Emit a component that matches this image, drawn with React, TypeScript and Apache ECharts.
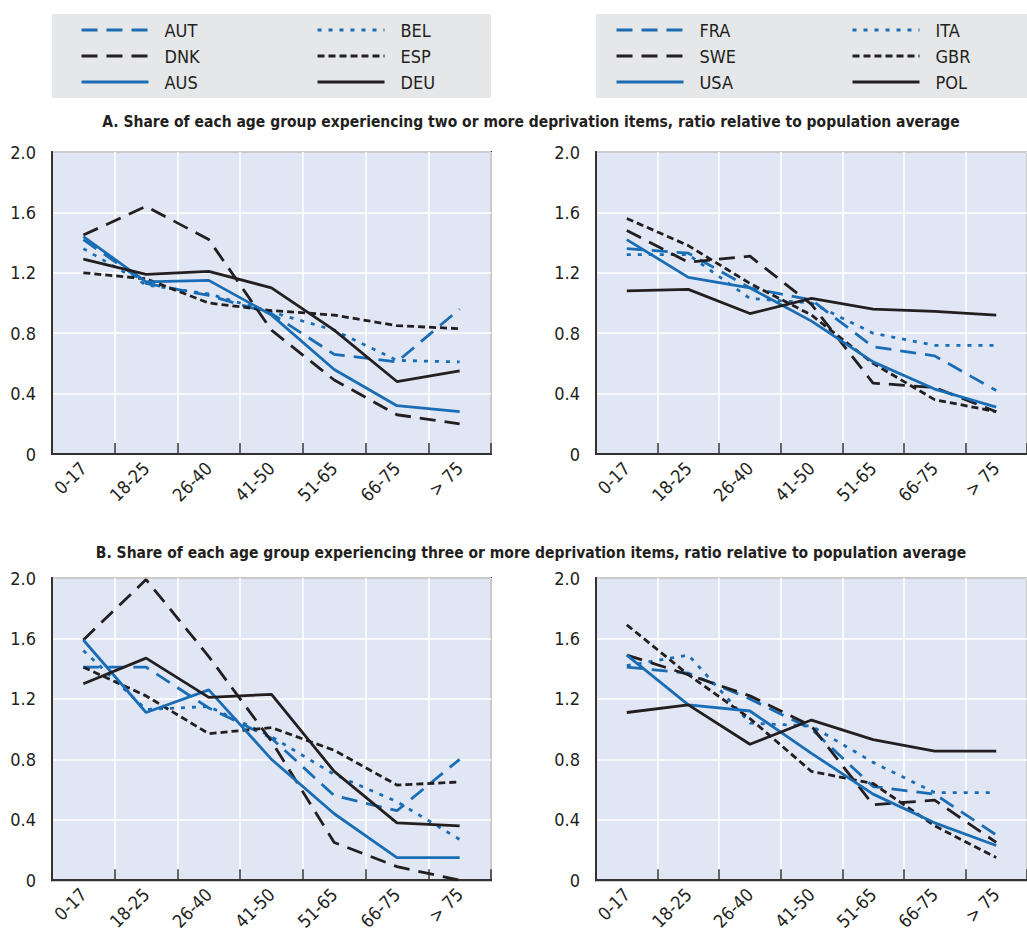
import React, { useEffect, useRef } from "react";
import * as echarts from "echarts";

const ageGroups = ["0-17", "18-25", "26-40", "41-50", "51-65", "66-75", "> 75"];
const yTicks = [0, 0.4, 0.8, 1.2, 1.6, 2.0];

const titleA = "A. Share of each age group experiencing two or more deprivation items, ratio relative to population average";
const titleB = "B. Share of each age group experiencing three or more deprivation items, ratio relative to population average";

// Panel A, left
const AUT_A = [1.42, 1.13, 1.05, 0.93, 0.66, 0.61, 0.96];
const BEL_A = [1.36, 1.12, 1.06, 0.94, 0.82, 0.62, 0.61];
const DNK_A = [1.45, 1.64, 1.42, 0.82, 0.49, 0.26, 0.2];
const ESP_A = [1.2, 1.16, 1.0, 0.95, 0.92, 0.85, 0.83];
const AUS_A = [1.44, 1.14, 1.15, 0.92, 0.56, 0.32, 0.28];
const DEU_A = [1.29, 1.19, 1.21, 1.1, 0.82, 0.48, 0.55];
// Panel A, right
const FRA_A = [1.36, 1.33, 1.1, 1.02, 0.71, 0.65, 0.42];
const ITA_A = [1.32, 1.32, 1.03, 1.0, 0.8, 0.72, 0.72];
const SWE_A = [1.48, 1.27, 1.31, 0.99, 0.47, 0.44, 0.28];
const GBR_A = [1.56, 1.38, 1.13, 0.92, 0.6, 0.36, 0.28];
const USA_A = [1.42, 1.17, 1.1, 0.88, 0.61, 0.43, 0.31];
const POL_A = [1.08, 1.09, 0.93, 1.03, 0.96, 0.945, 0.92];
// Panel B, left
const AUT_B = [1.41, 1.41, 1.14, 0.94, 0.56, 0.46, 0.8];
const BEL_B = [1.52, 1.13, 1.15, 0.95, 0.7, 0.52, 0.27];
const DNK_B = [1.59, 1.99, 1.48, 0.92, 0.25, 0.09, 0.0];
const ESP_B = [1.41, 1.22, 0.97, 1.01, 0.86, 0.63, 0.65];
const AUS_B = [1.59, 1.11, 1.26, 0.8, 0.44, 0.15, 0.15];
const DEU_B = [1.3, 1.47, 1.21, 1.23, 0.72, 0.38, 0.36];
// Panel B, right
const FRA_B = [1.41, 1.37, 1.2, 1.0, 0.62, 0.57, 0.3];
const ITA_B = [1.42, 1.49, 1.04, 1.02, 0.78, 0.58, 0.58];
const SWE_B = [1.49, 1.36, 1.22, 1.02, 0.5, 0.53, 0.25];
const GBR_B = [1.69, 1.36, 1.07, 0.72, 0.64, 0.36, 0.15];
const USA_B = [1.49, 1.16, 1.12, 0.84, 0.57, 0.38, 0.23];
const POL_B = [1.11, 1.16, 0.9, 1.06, 0.93, 0.855, 0.855];

const BLUE = "#1a6db4";
const BLACK = "#231f20";
const FONT = "'Liberation Sans Narrow', 'DejaVu Sans Condensed', 'Roboto Condensed', 'Liberation Sans', sans-serif";

const LONG_DASH = [16, 9];
const SHORT_DASH = [7, 4];
const DOT = [4, 7];

type Style = { color: string; type: any };
const styles: Record<string, Style> = {
  AUT: { color: BLUE, type: LONG_DASH },
  DNK: { color: BLACK, type: LONG_DASH },
  AUS: { color: BLUE, type: "solid" },
  BEL: { color: BLUE, type: DOT },
  ESP: { color: BLACK, type: SHORT_DASH },
  DEU: { color: BLACK, type: "solid" },
  FRA: { color: BLUE, type: LONG_DASH },
  SWE: { color: BLACK, type: LONG_DASH },
  USA: { color: BLUE, type: "solid" },
  ITA: { color: BLUE, type: DOT },
  GBR: { color: BLACK, type: SHORT_DASH },
  POL: { color: BLACK, type: "solid" },
};

const panels: { grid: number; series: [string, number[]][] }[] = [
  { grid: 0, series: [["AUT", AUT_A], ["BEL", BEL_A], ["DNK", DNK_A], ["ESP", ESP_A], ["AUS", AUS_A], ["DEU", DEU_A]] },
  { grid: 1, series: [["FRA", FRA_A], ["ITA", ITA_A], ["SWE", SWE_A], ["GBR", GBR_A], ["USA", USA_A], ["POL", POL_A]] },
  { grid: 2, series: [["AUT", AUT_B], ["BEL", BEL_B], ["DNK", DNK_B], ["ESP", ESP_B], ["AUS", AUS_B], ["DEU", DEU_B]] },
  { grid: 3, series: [["FRA", FRA_B], ["ITA", ITA_B], ["SWE", SWE_B], ["GBR", GBR_B], ["USA", USA_B], ["POL", POL_B]] },
];

const legendCols: { left: number; names: string[] }[] = [
  { left: 80, names: ["AUT", "DNK", "AUS"] },
  { left: 316, names: ["BEL", "ESP", "DEU"] },
  { left: 615, names: ["FRA", "SWE", "USA"] },
  { left: 851, names: ["ITA", "GBR", "POL"] },
];

const gridBoxes = [
  { left: 52, top: 152, width: 439, height: 302 },
  { left: 596, top: 152, width: 436, height: 302 },
  { left: 52, top: 578, width: 439, height: 303 },
  { left: 596, top: 578, width: 436, height: 303 },
];

export default function App() {
  const ref = useRef<HTMLDivElement>(null);
  useEffect(() => {
    document.body.style.margin = "0";
    const chart = echarts.init(ref.current!, null, { renderer: "svg" });
    const grids = gridBoxes.map((g) => ({
      ...g,
      show: true,
      backgroundColor: "#e0e6f4",
      borderColor: "#333333",
      borderWidth: 2,
      containLabel: false,
    }));
    const xAxes = gridBoxes.map((_, i) => ({
      type: "category",
      gridIndex: i,
      data: ageGroups,
      boundaryGap: true,
      axisLine: { show: true, lineStyle: { color: "#333333", width: 2 } },
      axisTick: { show: true, inside: true, length: 11, lineStyle: { color: "#333333", width: 1.5 } },
      splitLine: { show: true, lineStyle: { color: "#ffffff", width: 1.5 } },
      axisLabel: {
        rotate: 45,
        margin: 11,
        fontSize: 18,
        color: BLACK,
        fontFamily: FONT,
        interval: 0,
      },
    }));
    const yAxes = gridBoxes.map((_, i) => ({
      type: "value",
      gridIndex: i,
      min: yTicks[0],
      max: yTicks[yTicks.length - 1],
      interval: 0.4,
      axisLine: { show: true, lineStyle: { color: "#333333", width: 2 } },
      axisTick: { show: false },
      splitLine: { show: true, lineStyle: { color: "#ffffff", width: 1.5 } },
      axisLabel: {
        margin: 16,
        fontSize: 18,
        color: BLACK,
        fontFamily: FONT,
        formatter: (v: number) => (v === 0 ? "0" : v.toFixed(1)),
      },
    }));
    const series: any[] = [];
    panels.forEach((p) => {
      p.series.forEach(([name, data]) => {
        const st = styles[name];
        series.push({
          type: "line",
          name,
          data,
          xAxisIndex: p.grid,
          yAxisIndex: p.grid,
          symbol: "none",
          showSymbol: false,
          color: st.color,
          lineStyle: { color: st.color, width: 2.8, type: st.type, cap: "butt" },
          z: 3,
        });
      });
    });
    const legends = legendCols.map((c) => ({
      left: c.left,
      top: 21,
      orient: "vertical",
      data: c.names,
      itemWidth: 67,
      itemHeight: 14,
      itemGap: 8,
      padding: 0,
      selectedMode: false,
      itemStyle: { opacity: 0 },
      lineStyle: { width: 3 },
      textStyle: { fontSize: 18, color: BLACK, fontFamily: FONT, padding: [0, 0, 0, 11], lineHeight: 18 },
    }));
    const titleStyle = {
      fontSize: 15.5,
      fontWeight: "bold",
      fontFamily: FONT,
      fill: BLACK,
      textAlign: "center",
      textVerticalAlign: "middle",
    };
    chart.setOption({
      animation: false,
      backgroundColor: "#ffffff",
      grid: grids,
      xAxis: xAxes,
      yAxis: yAxes,
      series,
      legend: legends,
      graphic: [
        { type: "rect", z: -1, shape: { x: 52, y: 14, width: 439, height: 84 }, style: { fill: "#e6e7e9" } },
        { type: "rect", z: -1, shape: { x: 596, y: 14, width: 440, height: 84 }, style: { fill: "#e6e7e9" } },
        { type: "text", x: 531, y: 122, style: { text: titleA, ...titleStyle } },
        { type: "text", x: 531, y: 553, style: { text: titleB, ...titleStyle } },
      ],
    });
    return () => chart.dispose();
  }, []);
  return <div ref={ref} style={{ width: 1027, height: 933 }} />;
}
